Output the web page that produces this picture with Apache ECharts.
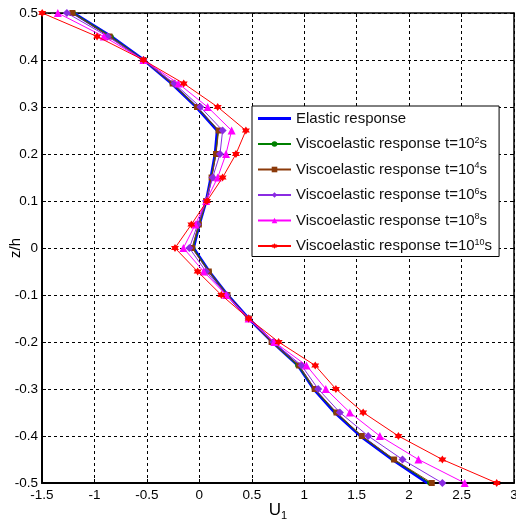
<!DOCTYPE html>
<html>
<head>
<meta charset="utf-8">
<script src="https://cdn.jsdelivr.net/npm/echarts@6/dist/echarts.min.js"></script>
<style>html,body{margin:0;padding:0;background:#fff;}#c{width:516px;height:523px;}</style>
</head>
<body>
<div id="c"></div>
<script>
const zValues = [0.5, 0.45, 0.4, 0.35, 0.3, 0.25, 0.2, 0.15, 0.1, 0.05, 0, -0.05, -0.1, -0.15, -0.2, -0.25, -0.3, -0.35, -0.4, -0.45, -0.5];
const elastic = [-1.20, -0.84, -0.53, -0.265, -0.03, 0.17, 0.15, 0.11, 0.065, 0.0, -0.055, 0.095, 0.27, 0.47, 0.695, 0.94, 1.09, 1.29, 1.535, 1.84, 2.175];
const t2 = [-1.20, -0.84, -0.53, -0.26, -0.025, 0.18, 0.155, 0.115, 0.065, 0.0, -0.06, 0.095, 0.27, 0.47, 0.69, 0.937, 1.095, 1.30, 1.545, 1.848, 2.197];
const t4 = [-1.21, -0.857, -0.533, -0.254, -0.022, 0.184, 0.159, 0.117, 0.065, -0.005, -0.07, 0.09, 0.268, 0.47, 0.689, 0.952, 1.10, 1.308, 1.549, 1.857, 2.216];
const t6 = [-1.263, -0.873, -0.533, -0.238, 0.01, 0.222, 0.197, 0.127, 0.063, -0.016, -0.095, 0.063, 0.26, 0.47, 0.705, 0.975, 1.133, 1.34, 1.61, 1.937, 2.317];
const t8 = [-1.349, -0.911, -0.533, -0.2, 0.079, 0.308, 0.254, 0.175, 0.065, -0.038, -0.152, 0.041, 0.255, 0.47, 0.714, 1.022, 1.206, 1.435, 1.721, 2.089, 2.53];
const t10 = [-1.498, -0.975, -0.533, -0.149, 0.175, 0.444, 0.349, 0.222, 0.073, -0.076, -0.232, -0.016, 0.21, 0.47, 0.756, 1.105, 1.302, 1.562, 1.898, 2.317, 2.835];
const seriesNames = ['Elastic response', 'Viscoelastic response t=10^2', 'Viscoelastic response t=10^4', 'Viscoelastic response t=10^6', 'Viscoelastic response t=10^8', 'Viscoelastic response t=10^10'];
const xTicks = {min: -1.5, max: 3, interval: 0.5};
const yTicks = {min: -0.5, max: 0.5, interval: 0.1};

const FONT = 'Liberation Sans, Arial, sans-serif';
const hexagram = 'path://M0,-10 L2.9,-5 L8.66,-5 L5.77,0 L8.66,5 L2.9,5 L0,10 L-2.9,5 L-8.66,5 L-5.77,0 L-8.66,-5 L-2.9,-5 Z';
function pairs(arr){ return arr.map((u,i)=>[u, zValues[i]]); }
const styles = [
  {color:'#0000FF', width:2.8, symbol:'none', size:0, show:false},
  {color:'#008000', width:1, symbol:'circle', size:5, show:true},
  {color:'#8B3A0A', width:1, symbol:'rect', size:6, show:true},
  {color:'#8A2BE2', width:1, symbol:'diamond', size:8, show:true},
  {color:'#FF00FF', width:1, symbol:'triangle', size:8, show:true},
  {color:'#FF0000', width:1, symbol:hexagram, size:8, show:true}
];
const datasets = [elastic, t2, t4, t6, t8, t10];
const series = datasets.map((d,i)=>({
  name: seriesNames[i],
  type:'line',
  data: pairs(d),
  showSymbol: styles[i].show,
  symbol: styles[i].symbol,
  symbolSize: styles[i].size,
  itemStyle:{color:styles[i].color},
  lineStyle:{color:styles[i].color, width:styles[i].width},
  animation:false,
  z: 2 + i
}));

const legendData = seriesNames.map((n,i)=> i === 0 ? {name:n, icon:'path://M0,0 L33,0 L33,3 L0,3 Z'} : {name:n});

const chart = echarts.init(document.getElementById('c'));
const axisLbl = {color:'#000', fontSize:13.5, fontFamily:FONT};
chart.setOption({
  backgroundColor:'#fff',
  animation:false,
  grid:{left:42, right:2, top:13, bottom:40, show:false, containLabel:false, outerBoundsMode:'none'},
  legend:{
    orient:'vertical', left:252, top:106,
    backgroundColor:'#fff', borderColor:'#000', borderWidth:1,
    padding:[5,7,3,5],
    itemWidth:33, itemHeight:7, itemGap:10,
    data: legendData,
    formatter: function(name){
      const m = name.match(/^(.*t=10)\^(\d+)$/);
      if(!m) return '{n|' + name + '}';
      return '{n|' + m[1] + '}{s|' + m[2] + '}{n|s}';
    },
    textStyle:{
      color:'#111', fontSize:15, fontFamily:FONT,
      rich:{
        n:{fontSize:15, color:'#111', fontFamily:FONT, lineHeight:16},
        s:{fontSize:9, color:'#111', fontFamily:FONT, verticalAlign:'top', lineHeight:10}
      }
    }
  },
  xAxis:[{
    type:'value', min:xTicks.min, max:xTicks.max, interval:xTicks.interval,
    name:'{a|U}{b|1}', nameLocation:'middle', nameGap:17, nameMoveOverlap:false,
    nameTextStyle:{rich:{
      a:{fontSize:17, color:'#000', fontFamily:FONT, lineHeight:18},
      b:{fontSize:11, color:'#000', fontFamily:FONT, verticalAlign:'bottom', padding:[10,0,0,0]}
    }},
    axisLine:{show:true, onZero:false, lineStyle:{color:'#000', width:2}},
    axisTick:{show:true, inside:true, length:4, lineStyle:{color:'#000'}},
    axisLabel:Object.assign({margin:5}, axisLbl),
    splitLine:{show:true, lineStyle:{color:'#000', width:1, type:[3,3]}}
  },{
    type:'value', position:'top', min:xTicks.min, max:xTicks.max, interval:xTicks.interval,
    axisLine:{show:true, onZero:false, lineStyle:{color:'#000', width:1.5}},
    axisTick:{show:true, inside:true, length:4, lineStyle:{color:'#000'}},
    axisLabel:{show:false}, splitLine:{show:false}
  }],
  yAxis:[{
    type:'value', min:yTicks.min, max:yTicks.max, interval:yTicks.interval,
    name:'z/h', nameLocation:'middle', nameGap:19, nameRotate:90, nameMoveOverlap:false,
    nameTextStyle:{color:'#000', fontSize:15, fontFamily:FONT},
    axisLine:{show:true, onZero:false, lineStyle:{color:'#000', width:2}},
    axisTick:{show:true, inside:true, length:4, lineStyle:{color:'#000'}},
    axisLabel:Object.assign({margin:4}, axisLbl),
    splitLine:{show:true, lineStyle:{color:'#000', width:1, type:[3,3]}}
  },{
    type:'value', position:'right', min:yTicks.min, max:yTicks.max, interval:yTicks.interval,
    axisLine:{show:true, onZero:false, lineStyle:{color:'#000', width:1.5}},
    axisTick:{show:true, inside:true, length:4, lineStyle:{color:'#000'}},
    axisLabel:{show:false}, splitLine:{show:false}
  }],
  series: series
});
</script>
</body>
</html>
